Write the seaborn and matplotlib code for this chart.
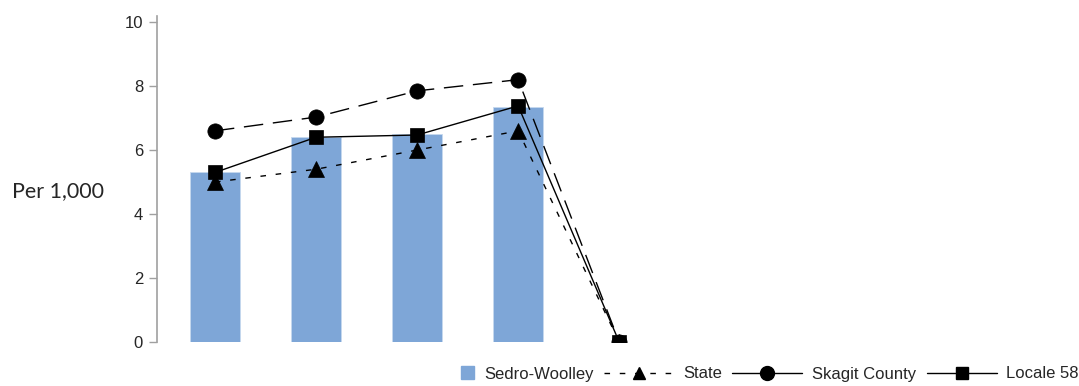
import numpy as np
import pandas as pd
import matplotlib
matplotlib.use('Agg')
import matplotlib.pyplot as plt
import matplotlib.patches as mpatches
from matplotlib.legend_handler import HandlerPatch
from matplotlib.lines import Line2D
import seaborn as sns

# data
periods = ['1', '2', '3', '4', '5']
sedro_woolley = [5.3, 6.4, 6.5, 7.35, 0]
state = [5.0, 5.4, 6.0, 6.6, 0]
skagit_county = [6.6, 7.03, 7.85, 8.2, 0]
locale_58 = [5.3, 6.4, 6.47, 7.38, 0]

bar_color = '#7ea6d7'

df = pd.DataFrame({'period': periods, 'Sedro-Woolley': sedro_woolley,
                   'State': state, 'Skagit County': skagit_county,
                   'Locale 58': locale_58})
df['pos'] = np.arange(len(df))

sns.set_style('white')
plt.rcParams['font.family'] = ['Liberation Sans', 'DejaVu Sans']

fig = plt.figure(figsize=(10.79, 3.86), dpi=100)
ax = fig.add_axes([157/1079, 44/386, 922/1079, 326/386])

# bars
sns.barplot(x='period', y='Sedro-Woolley', data=df, color=bar_color,
            width=0.5, saturation=1, ax=ax, edgecolor='#c6d8ee', linewidth=0.6)

# lines
mk = dict(color='black', lw=1, mec='black', mfc='black', mew=0.5)
sns.lineplot(x='pos', y='State', data=df, ax=ax, marker='^', markersize=11,
             linestyle=(0, (4, 7)), **mk)
sns.lineplot(x='pos', y='Skagit County', data=df, ax=ax, marker='o',
             markersize=11, linestyle=(0, (14, 7)), **mk)
sns.lineplot(x='pos', y='Locale 58', data=df, ax=ax, marker='s',
             markersize=10, **mk)

ax.set_xlim(-0.574, 8.55)
ax.set_ylim(0, 10.19)
ax.set_yticks([0, 2, 4, 6, 8, 10])
ax.set_xticks([])
ax.set_xlabel('')
ax.tick_params(axis='y', direction='out', length=6, width=1, color='#a0a0a0',
               pad=4, labelsize=12, left=True)
for s in ['top', 'right', 'bottom']:
    ax.spines[s].set_visible(False)
ax.spines['left'].set_color('#a0a0a0')
ax.spines['left'].set_linewidth(1.2)

ax.set_ylabel('Per 1,000', rotation=0, ha='right', va='center', fontsize=15.5,
              family=['Lato', 'DejaVu Sans'])
ax.yaxis.set_label_coords(-0.058, 0.464)

# legend
def small_square(legend, orig_handle, xdescent, ydescent, width, height, fontsize):
    s = height * 1.1
    return mpatches.Rectangle((width - s - xdescent, -ydescent - 0.05 * height), s, s)

handles = [
    mpatches.Patch(color=bar_color),
    Line2D([], [], color='black', lw=1, linestyle=(0, (4, 7)), marker='^', markersize=9),
    Line2D([], [], color='black', lw=1, marker='o', markersize=10),
    Line2D([], [], color='black', lw=1, marker='s', markersize=9),
]
labels = ['Sedro-Woolley', 'State', 'Skagit County', 'Locale 58']
fig.legend(handles, labels, loc='center right', bbox_to_anchor=(1.0, 1 - 374/386),
           ncol=4, frameon=False, handlelength=4.2, handletextpad=0.6,
           columnspacing=0.6, borderaxespad=0, borderpad=0,
           handler_map={mpatches.Patch: HandlerPatch(patch_func=small_square)},
           prop={'family': ['Liberation Sans Narrow', 'Liberation Sans'], 'size': 12})

fig.savefig('out.png', dpi=100)
